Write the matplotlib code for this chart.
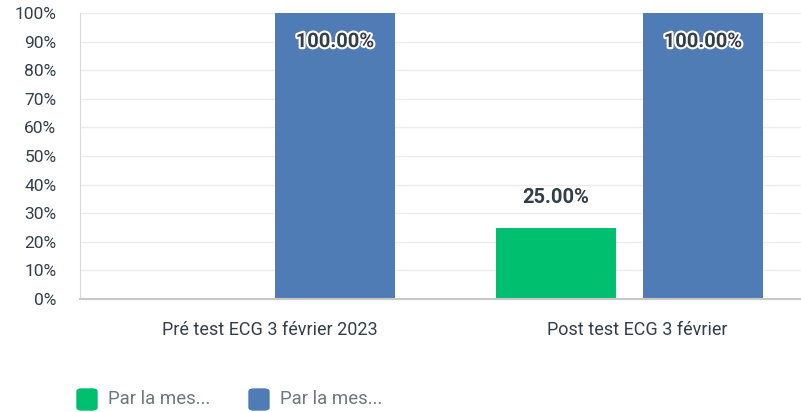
import matplotlib.pyplot as plt
import matplotlib.patheffects as pe
from matplotlib.patches import FancyBboxPatch

plt.rcParams['font.family'] = ['Roboto', 'DejaVu Sans']

categories = ['Pré test ECG 3 février 2023', 'Post test ECG 3 février']
series_names = ['Par la mes...', 'Par la mes...']
green_vals = [0.0, 25.0]
blue_vals = [100.0, 100.0]
colors = ['#00bf6f', '#507cb6']
yticks = list(range(0, 101, 10))

W, H = 801, 412
fig = plt.figure(figsize=(W / 100, H / 100), dpi=100)
ax = fig.add_axes([80 / W, 1 - 299 / H, (W - 80) / W, (299 - 13) / H])

bw = 120 / 368
off = 147 / 2 / 368
x = list(range(len(categories)))
ax.bar([i - off for i in x], green_vals, bw, color=colors[0], zorder=2)
ax.bar([i + off for i in x], blue_vals, bw, color=colors[1], zorder=2)

ax.set_xlim(-181.5 / 368, 1 + 171.5 / 368)
ax.set_ylim(0, 100)
ax.set_yticks(yticks)
ax.set_yticklabels([f'{t}%' for t in yticks], fontsize=12.5, color='#333e48')
# labels sit a little right of the bar groups in the original
ax.set_xticks([i + 8 / 368 for i in x])
ax.set_xticklabels(categories, fontsize=13, color='#333e48')
ax.tick_params(axis='both', length=0)
ax.tick_params(axis='x', pad=16)
ax.tick_params(axis='y', pad=17)
ax.grid(axis='y', color='#ececec', linewidth=1, zorder=0)
for s in ['top', 'right']:
    ax.spines[s].set_visible(False)
ax.spines['left'].set_color('#d9d9d9')
ax.spines['bottom'].set_color('#c8c8c8')
ax.spines['bottom'].set_linewidth(1.5)

stroke = [pe.withStroke(linewidth=3, foreground='white')]
for i, v in enumerate(blue_vals):
    ax.text(i + off, v - 10, f'{v:.2f}%', ha='center', va='center', fontsize=14.5,
            fontweight='bold', color='#333e48', path_effects=stroke, zorder=3)
for i, v in enumerate(green_vals):
    if v > 0:
        ax.text(i - off, v + 10.5, f'{v:.2f}%', ha='center', va='center', fontsize=14.5,
                fontweight='bold', color='#333e48', zorder=3)

# legend
lx = [77, 249]
for k, name in enumerate(series_names):
    box = FancyBboxPatch((lx[k] / W, 1 - 410 / H), 20 / W, 21 / H,
                         boxstyle='round,pad=0,rounding_size=0.006',
                         transform=fig.transFigure, color=colors[k])
    fig.patches.append(box)
    fig.text((lx[k] + 31) / W, 1 - 399 / H, name, fontsize=13.4, color='#6b787f',
             va='center', ha='left')

fig.savefig('out.png', dpi=100)
